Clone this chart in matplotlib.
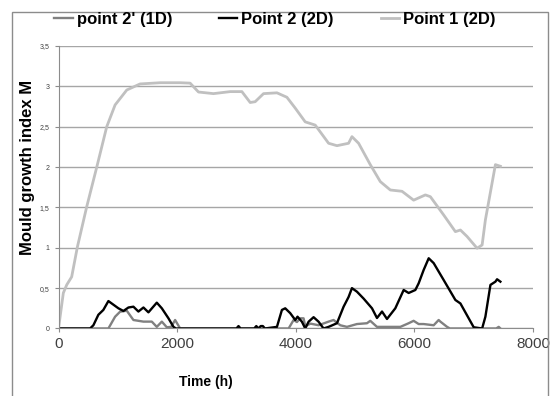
import numpy as np
import matplotlib.pyplot as plt
from matplotlib.patches import Rectangle
from matplotlib.ticker import FuncFormatter

# series (time in h, mould index M)
t_p1 = [0, 81, 138, 222, 318, 476, 645, 813, 954, 1151, 1375, 1713, 2052, 2219,
        2360, 2612, 2895, 3092, 3232, 3316, 3457, 3683, 3851, 3992, 4160, 4329,
        4554, 4695, 4891, 4948, 5060, 5257, 5426, 5595, 5792, 5988, 6186, 6270,
        6495, 6692, 6777, 6889, 7058, 7143, 7198, 7367, 7451]
m_p1 = [0, 0.44, 0.54, 0.64, 1.01, 1.51, 2.0, 2.5, 2.77, 2.955, 3.03, 3.045, 3.045, 3.04,
        2.93, 2.91, 2.935, 2.935, 2.80, 2.81, 2.91, 2.92, 2.865, 2.73, 2.56, 2.52,
        2.295, 2.265, 2.295, 2.377, 2.295, 2.03, 1.82, 1.716, 1.70, 1.59, 1.655, 1.633,
        1.406, 1.20, 1.22, 1.14, 0.994, 1.035, 1.345, 2.03, 2.01]

t_p2 = [0, 532, 588, 672, 756, 841, 897, 1010, 1094, 1179, 1263, 1347, 1432, 1516,
        1657, 1742, 1854, 1938, 1980, 3000, 3035, 3070, 3300, 3335, 3370, 3410,
        3446, 3480, 3683, 3767, 3823, 3907, 3992, 4030, 4104, 4160, 4217, 4301,
        4385, 4469, 4554, 4695, 4807, 4891, 4948, 5032, 5145, 5286, 5370, 5455,
        5539, 5679, 5820, 5904, 6017, 6073, 6157, 6242, 6326, 6495, 6692, 6777,
        7001, 7143, 7198, 7283, 7367, 7395, 7451]
m_p2 = [0, 0, 0.04, 0.17, 0.23, 0.34, 0.31, 0.25, 0.217, 0.26, 0.27, 0.21, 0.26, 0.20,
        0.32, 0.25, 0.126, 0.02, 0, 0, 0.03, 0, 0, 0.03, 0, 0.03,
        0.03, 0, 0.02, 0.23, 0.25, 0.19, 0.105, 0.146, 0.084, 0, 0.084, 0.14,
        0.084, 0, 0.02, 0.065, 0.27, 0.39, 0.50, 0.456, 0.37, 0.25, 0.13, 0.21,
        0.118, 0.25, 0.477, 0.44, 0.477, 0.56, 0.725, 0.87, 0.81, 0.60, 0.353, 0.31,
        0.015, 0, 0.146, 0.54, 0.58, 0.61, 0.58]

t_p2b = [0, 841, 954, 1038, 1151, 1263, 1432, 1573, 1657, 1742, 1826, 1900, 1966,
         2051, 3880, 3964, 4020, 4076, 4132, 4160, 4250, 4385, 4554, 4638, 4751,
         4864, 5032, 5201, 5257, 5370, 5539, 5764, 5904, 5988, 6073, 6157, 6326,
         6410, 6439, 6552, 6600, 7380, 7423, 7451]
m_p2b = [0, 0, 0.146, 0.208, 0.22, 0.105, 0.085, 0.085, 0.02, 0.085, 0.015, 0.02, 0.105,
         0, 0, 0.105, 0.08, 0.126, 0.126, 0.03, 0.06, 0.04, 0.085, 0.105, 0.04,
         0.02, 0.055, 0.065, 0.095, 0.02, 0.02, 0.02, 0.065, 0.095, 0.055, 0.055, 0.04,
         0.105, 0.085, 0.02, 0, 0, 0.02, 0]

labels = ["point 2' (1D)", "Point 2 (2D)", "Point 1 (2D)"]
colors = ['#808080', '#000000', '#c0c0c0']

plt.rcParams['font.family'] = ['Liberation Sans', 'DejaVu Sans']

fig = plt.figure(figsize=(5.5, 3.96), dpi=100)
ax = fig.add_axes([0.1064, 0.1705, 0.969 - 0.1064, 0.8838 - 0.1705])

# outer chart border
fig.patches.append(Rectangle((12 / 550, -0.05), 536 / 550, 1.05 - 12 / 396,
                             transform=fig.transFigure, fill=False,
                             edgecolor='#8c8c8c', linewidth=1.0))

ax.plot(t_p2b, m_p2b, color=colors[0], lw=1.7, label=labels[0])
ax.plot(t_p2, m_p2, color=colors[1], lw=1.7, label=labels[1])
ax.plot(t_p1, m_p1, color=colors[2], lw=2.0, label=labels[2])

ax.set_xlim(0, 8000)
ax.set_ylim(0, 3.5)
ax.set_xticks([0, 2000, 4000, 6000, 8000])
ax.set_yticks(np.arange(0, 3.51, 0.5))
ax.yaxis.set_major_formatter(FuncFormatter(lambda v, p: f'{v:g}'.replace('.', ',')))
ax.tick_params(axis='y', labelsize=5, length=3, color='#8c8c8c', labelcolor='#404040')
ax.tick_params(axis='x', labelsize=11, length=3, color='#8c8c8c', labelcolor='#404040', pad=3)

ax.grid(axis='y', color='#a6a6a6', lw=1.0)
ax.set_axisbelow(True)
for s in ['top', 'right']:
    ax.spines[s].set_visible(False)
for s in ['left', 'bottom']:
    ax.spines[s].set_color('#8c8c8c')

ax.set_xlabel('Time (h)', fontsize=10, fontweight='bold')
ax.xaxis.set_label_coords(0.31, -0.165)
ax.set_ylabel('Mould growth index M', fontsize=12, fontweight='bold')
ax.yaxis.set_label_coords(-0.05, 0.57)

fig.legend(loc='center', bbox_to_anchor=(0.5, 0.95), ncol=3, frameon=False,
           prop={'weight': 'bold', 'size': 12}, handlelength=1.1, handletextpad=0.25,
           columnspacing=2.8)

plt.savefig('out.png', dpi=100)
